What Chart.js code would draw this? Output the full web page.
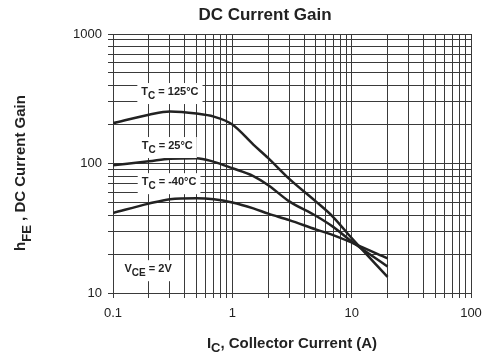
<!DOCTYPE html>
<html>
<head>
<meta charset="utf-8">
<script src="https://cdn.jsdelivr.net/npm/chart.js@4/dist/chart.umd.min.js"></script>
<style>
  html, body { margin: 0; padding: 0; background: #fff; }
  #wrap { width: 482px; height: 360px; }
</style>
</head>
<body>
<div id="wrap"><canvas id="gainChart" width="482" height="360"></canvas></div>
<script>
// collector current (A) and hFE
const current = [0.1, 0.2, 0.3, 0.5, 0.7, 1, 1.5, 2, 3, 5, 7, 10, 20];
const gain125 = [205, 238, 252, 243, 230, 200, 140, 110, 76, 51, 38.6, 26.5, 13.3];
const gain25 = [97, 104, 109, 110, 103, 92, 80, 68, 51, 39.5, 32.4, 25, 16];
const gainMinus40 = [41.5, 49, 53, 54, 53, 50, 45, 41, 36.5, 31, 28, 24.5, 18.5];

const xTickLabels = ['0.1', '1', '10', '100'];
const yTickLabels = ['10', '100', '1000'];

// text notes on the plot, anchored in data units
const notes = [
    { main: 'T', sub: 'C', rest: ' = 125°C', x: 0.3, y: 350 },
    { main: 'T', sub: 'C', rest: ' = 25°C', x: 0.285, y: 134 },
    { main: 'T', sub: 'C', rest: ' = -40°C', x: 0.295, y: 70.5 },
    { main: 'V', sub: 'CE', rest: ' = 2V', x: 0.197, y: 15 }
];

const FONT = '"Liberation Sans", Arial, sans-serif';
const INK = '#222';

function logTicks(labels) {
    const ticks = [];
    const decades = labels.map(Number);
    for (let i = 0; i < decades.length - 1; i++) {
        for (let k = 1; k < 10; k++) {
            ticks.push({ value: k * decades[i] });
        }
    }
    ticks.push({ value: decades[decades.length - 1] });
    return ticks;
}

function labelFor(labels, value) {
    const hit = labels.find(l => Math.abs(Number(l) - value) < 1e-9 * Number(l));
    return hit ? hit : '';
}

function points(ys) {
    return current.map((x, i) => ({ x: x, y: ys[i] }));
}

// draws "main" + subscript + "rest", left to right from x, baseline y
function drawRich(ctx, parts, x, y, size, subSize, subDrop) {
    ctx.font = 'bold ' + size + 'px ' + FONT;
    ctx.fillText(parts.main, x, y);
    x += ctx.measureText(parts.main).width;
    ctx.font = 'bold ' + subSize + 'px ' + FONT;
    ctx.fillText(parts.sub, x, y + subDrop);
    x += ctx.measureText(parts.sub).width;
    ctx.font = 'bold ' + size + 'px ' + FONT;
    ctx.fillText(parts.rest, x, y);
}

function richWidth(ctx, parts, size, subSize) {
    ctx.font = 'bold ' + size + 'px ' + FONT;
    let w = ctx.measureText(parts.main).width + ctx.measureText(parts.rest).width;
    ctx.font = 'bold ' + subSize + 'px ' + FONT;
    return w + ctx.measureText(parts.sub).width;
}

const notesPlugin = {
    id: 'notes',
    afterDatasetsDraw(chart) {
        const ctx = chart.ctx;
        const xs = chart.scales.x;
        const ys = chart.scales.y;
        ctx.save();
        ctx.textBaseline = 'alphabetic';
        ctx.textAlign = 'left';
        for (const n of notes) {
            const cx = xs.getPixelForValue(n.x);
            const cy = ys.getPixelForValue(n.y);
            const w = richWidth(ctx, n, 11, 10);
            ctx.fillStyle = '#fff';
            ctx.fillRect(cx - w / 2 - 4, cy - 10, w + 8, 21);
            ctx.fillStyle = INK;
            drawRich(ctx, n, cx - w / 2, cy + 2, 11, 10, 4);
        }
        ctx.restore();
    },
    afterDraw(chart) {
        const ctx = chart.ctx;
        const area = chart.chartArea;
        ctx.save();
        ctx.fillStyle = INK;
        ctx.textBaseline = 'alphabetic';

        // main title
        ctx.font = 'bold 17px ' + FONT;
        ctx.textAlign = 'center';
        ctx.fillText('DC Current Gain', 265, 20);

        // x axis title
        ctx.textAlign = 'left';
        const xt = { main: 'I', sub: 'C', rest: ', Collector Current (A)' };
        const xw = richWidth(ctx, xt, 15, 13);
        drawRich(ctx, xt, (area.left + area.right) / 2 - xw / 2, 348, 15, 13, 4);

        // y axis title, rotated
        const yt = { main: 'h', sub: 'FE', rest: ' , DC Current Gain' };
        const yw = richWidth(ctx, yt, 15, 13);
        ctx.translate(25, 173);
        ctx.rotate(-Math.PI / 2);
        drawRich(ctx, yt, -yw / 2, 0, 15, 13, 6);
        ctx.restore();
    }
};

const gainData = {
    datasets: [
        { label: 'TC = 125°C', data: points(gain125) },
        { label: 'TC = 25°C', data: points(gain25) },
        { label: 'TC = -40°C', data: points(gainMinus40) }
    ].map(d => Object.assign(d, {
        borderColor: INK,
        borderWidth: 2.5,
        pointRadius: 0,
        fill: false,
        cubicInterpolationMode: 'monotone'
    }))
};

const gridStyle = {
    color: '#3a3a3a',
    lineWidth: 1,
    tickLength: 5,
    tickColor: '#3a3a3a'
};

const gainConfig = {
    type: 'line',
    data: gainData,
    options: {
        responsive: false,
        devicePixelRatio: 1,
        animation: false,
        layout: { padding: { top: 34, right: 11, left: 0, bottom: 0 } },
        plugins: {
            legend: { display: false },
            title: { display: false },
            tooltip: { enabled: false }
        },
        scales: {
            x: {
                type: 'logarithmic',
                min: 0.1,
                max: 100,
                grid: gridStyle,
                border: { color: '#3a3a3a', width: 1 },
                afterBuildTicks: s => { s.ticks = logTicks(xTickLabels); },
                afterFit: s => { s.height = 67; s.paddingLeft = 0; s.paddingRight = 0; },
                ticks: {
                    autoSkip: false,
                    maxRotation: 0,
                    padding: 8,
                    color: INK,
                    font: { family: FONT, size: 13 },
                    callback: v => labelFor(xTickLabels, v)
                }
            },
            y: {
                type: 'logarithmic',
                min: 10,
                max: 1000,
                grid: gridStyle,
                border: { color: '#3a3a3a', width: 1 },
                afterBuildTicks: s => { s.ticks = logTicks(yTickLabels); },
                afterFit: s => { s.width = 113; s.paddingTop = 0; s.paddingBottom = 0; },
                ticks: {
                    autoSkip: false,
                    padding: 6,
                    color: INK,
                    font: { family: FONT, size: 13 },
                    callback: v => labelFor(yTickLabels, v)
                }
            }
        }
    },
    plugins: [notesPlugin]
};

const gainChart = new Chart(// eslint-disable-line
    document.getElementById('gainChart'),
    gainConfig
);
</script>
</body>
</html>
